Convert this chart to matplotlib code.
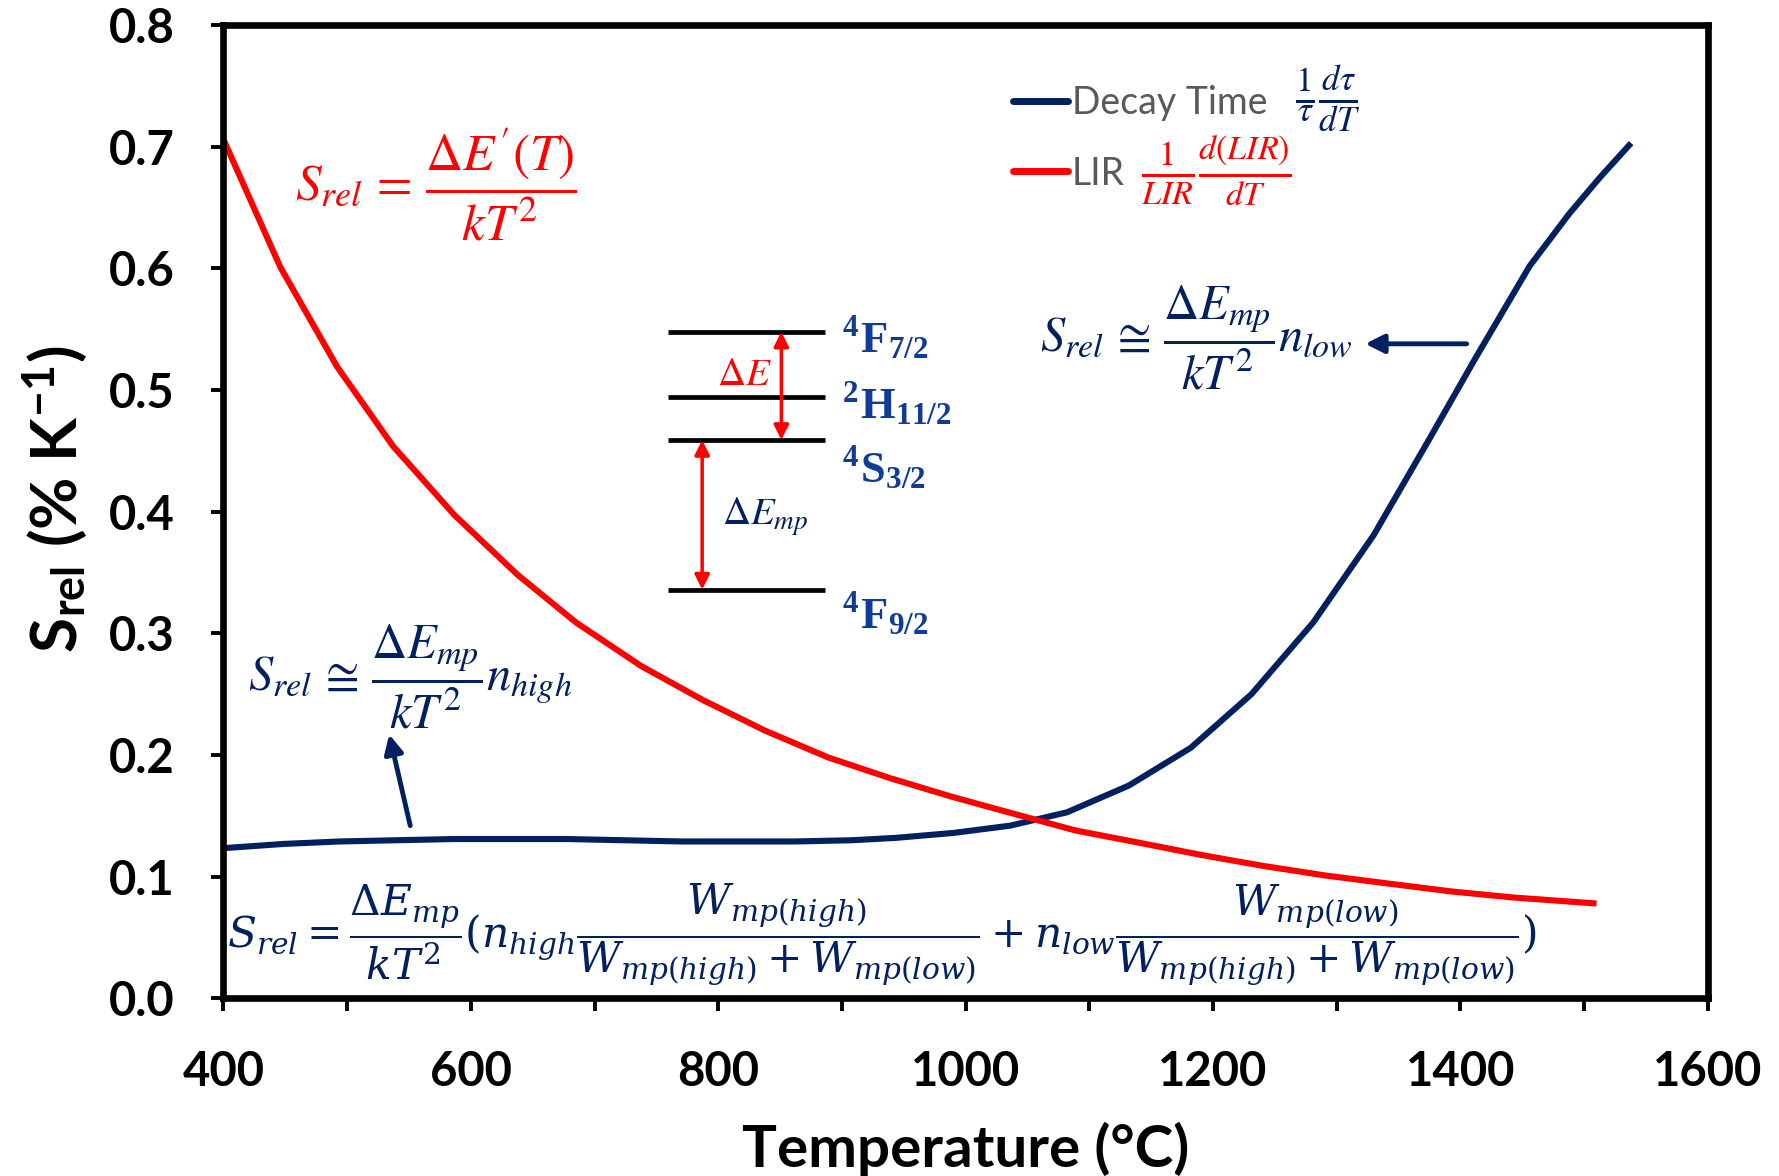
import matplotlib
matplotlib.use("Agg")
import matplotlib.pyplot as plt

plt.rcParams['mathtext.fontset'] = 'stix'
plt.rcParams['axes.unicode_minus'] = False
plt.rcParams['font.family'] = ['Lato', 'DejaVu Sans']

NAVY = '#002060'
RED = '#ff0000'
LEVEL_BLUE = '#103c98'

# LIR relative sensitivity
lir_T = [400, 446, 492, 537, 587, 638, 685, 738, 788, 838, 889, 939, 988,
         1038, 1089, 1140, 1190, 1240, 1291, 1341, 1392, 1442, 1510]
lir_S = [0.706, 0.601, 0.519, 0.454, 0.397, 0.348, 0.309, 0.273, 0.245,
         0.220, 0.198, 0.181, 0.166, 0.152, 0.138, 0.128, 0.118, 0.109,
         0.101, 0.0945, 0.088, 0.083, 0.078]

# decay time relative sensitivity
tau_T = [400, 449, 494, 540, 586, 632, 678, 724, 770, 816, 862, 908, 944,
         990, 1036, 1082, 1132, 1182, 1231, 1281, 1330, 1375, 1412, 1456,
         1488, 1513, 1538]
tau_S = [0.1235, 0.127, 0.129, 0.130, 0.131, 0.131, 0.131, 0.130, 0.129,
         0.129, 0.129, 0.130, 0.132, 0.136, 0.142, 0.153, 0.175, 0.206,
         0.250, 0.309, 0.381, 0.460, 0.526, 0.602, 0.645, 0.675, 0.703]

# energy level scheme drawn inside the plot
level_names = [r'$^\mathregular{4}$F$_\mathregular{7/2}$',
               r'$^\mathregular{2}$H$_\mathregular{11/2}$',
               r'$^\mathregular{4}$S$_\mathregular{3/2}$',
               r'$^\mathregular{4}$F$_\mathregular{9/2}$']
level_y = [0.548, 0.494, 0.459, 0.336]
level_label_y = [0.543, 0.489, 0.436, 0.316]

fig = plt.figure(figsize=(17.79, 11.76), dpi=100)
ax = fig.add_axes([0.1256, 0.151, 0.8344, 0.8277])

ax.plot(tau_T, tau_S, color=NAVY, lw=4.4, label='Decay Time', solid_capstyle='butt')
ax.plot(lir_T, lir_S, color=RED, lw=4.4, label='LIR', solid_capstyle='butt')

ax.set_xlim(400, 1600)
ax.set_ylim(0, 0.8)
ax.set_xticks(range(400, 1601, 200))
ax.set_xticks(range(500, 1600, 200), minor=True)
ax.set_yticks([i / 10 for i in range(9)])
ax.set_yticklabels([f'{i / 10:.1f}' for i in range(9)])

for s in ax.spines.values():
    s.set_linewidth(4.8)
ax.tick_params(which='both', direction='out', length=9, width=2.8, color='black')
ax.tick_params(axis='x', which='both', pad=28, labelsize=34)
ax.tick_params(axis='y', pad=26, labelsize=34)
for lab in ax.get_xticklabels() + ax.get_yticklabels():
    lab.set_fontweight('bold')

ax.set_xlabel('Temperature (°C)', fontsize=42, fontweight='bold', labelpad=20)
ax.set_ylabel(r'S$_\mathregular{rel}$ (% K$^\mathregular{-1}$)', fontsize=46,
              fontweight='bold')
ax.yaxis.set_label_coords(-0.0894, 0.513)

# energy levels and gaps
ax.hlines(level_y, 759, 886, color='black', lw=3.4)
for name, y in zip(level_names, level_label_y):
    ax.text(900, y, name, color=LEVEL_BLUE, fontsize=32, fontweight='bold',
            family='Liberation Serif', va='center', ha='left')
ax.annotate('', xy=(851, level_y[2]), xytext=(851, level_y[0]),
            arrowprops=dict(arrowstyle='<|-|>', color=RED, lw=2.5, mutation_scale=22,
                            shrinkA=0, shrinkB=0))
ax.annotate('', xy=(787, level_y[3]), xytext=(787, level_y[2]),
            arrowprops=dict(arrowstyle='<|-|>', color=RED, lw=2.5, mutation_scale=22,
                            shrinkA=0, shrinkB=0))
ax.text(821, 0.513, r'$\Delta E$', color=RED, fontsize=28, ha='center', va='center')
ax.text(838, 0.396, r'$\Delta E_{mp}$', color=NAVY, fontsize=28, ha='center', va='center')

# formulas
ax.text(572, 0.669, r"$S_{rel}\,=\,\dfrac{\Delta E'(T)}{kT^2}$", color=RED,
        fontsize=37, ha='center', va='center')
ax.text(1187, 0.543, r'$S_{rel}\,\cong\,\dfrac{\Delta E_{mp}}{kT^2}n_{low}$', color=NAVY,
        fontsize=35, ha='center', va='center')
ax.text(551, 0.264, r'$S_{rel}\,\cong\,\dfrac{\Delta E_{mp}}{kT^2}n_{high}$', color=NAVY,
        fontsize=35, ha='center', va='center')
ax.text(932, 0.0525,
        r'$S_{rel}=\dfrac{\Delta E_{mp}}{kT^2}(n_{high}\dfrac{W_{mp(high)}}{W_{mp(high)}+W_{mp(low)}}'
        r'+n_{low}\dfrac{W_{mp(low)}}{W_{mp(high)}+W_{mp(low)}})$',
        color=NAVY, fontsize=30.5, ha='center', va='center', math_fontfamily='dejavuserif')

ax.annotate('', xy=(1323, 0.538), xytext=(1405, 0.538),
            arrowprops=dict(arrowstyle='-|>', color=NAVY, lw=3.5, mutation_scale=28,
                            shrinkA=0, shrinkB=0))
ax.annotate('', xy=(534, 0.217), xytext=(551, 0.142),
            arrowprops=dict(arrowstyle='-|>', color=NAVY, lw=3.5, mutation_scale=28,
                            shrinkA=0, shrinkB=0))

# legend with the defining expressions beside it
leg = ax.legend(loc='upper left', bbox_to_anchor=(0.5196, 0.958), frameon=False,
                fontsize=27, labelcolor='#595959', handlelength=1.45,
                handletextpad=0.1, labelspacing=0.93, borderpad=0)
for h in leg.get_lines():
    h.set_solid_capstyle('round')
    h.set_linewidth(5)
ax.text(0.744, 0.924, r'$\frac{1}{\tau}\frac{d\tau}{dT}$', transform=ax.transAxes,
        color=NAVY, fontsize=36, ha='center', va='center')
ax.text(0.669, 0.851, r'$\frac{1}{LIR}\frac{d(LIR)}{dT}$', transform=ax.transAxes,
        color=RED, fontsize=35, ha='center', va='center')

fig.savefig('out.png', dpi=100)
